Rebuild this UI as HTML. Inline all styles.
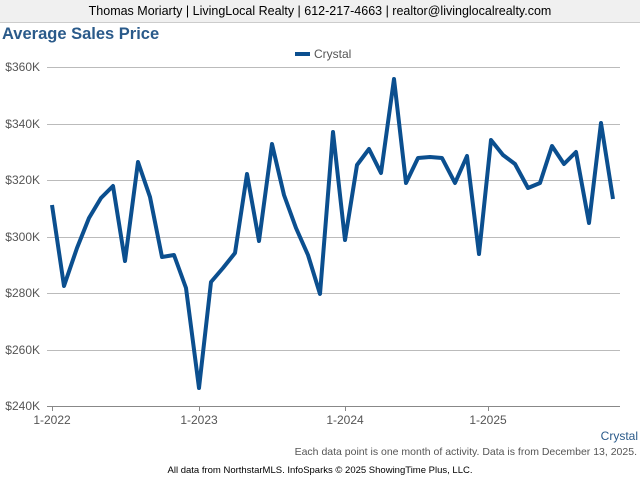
<!DOCTYPE html>
<html><head><style>
body{margin:0;width:640px;height:480px;background:#fff;font-family:"Liberation Sans",Arial,sans-serif;overflow:hidden;position:relative}
.hdr{position:absolute;left:0;top:0;width:640px;height:22px;background:#f0f0f0;border-bottom:1px solid #ccc;text-align:center;font-size:12.5px;line-height:22px;color:#000}
.t{position:absolute;left:2px;top:25px;font-size:16.5px;font-weight:bold;color:#2a5a8a}
</style></head><body>
<div class="hdr">Thomas Moriarty | LivingLocal Realty | 612-217-4663 | realtor@livinglocalrealty.com</div>
<div class="t">Average Sales Price</div>
<svg width="640" height="480" style="position:absolute;left:0;top:0" font-family="Liberation Sans, Arial, sans-serif">
<line x1="295" y1="54" x2="310" y2="54" stroke="#0b4f8f" stroke-width="4"/>
<text x="314" y="58" font-size="12" fill="#555">Crystal</text>
<g stroke="#bbb" stroke-width="1">
<line x1="47" y1="67.5" x2="620" y2="67.5"/><line x1="47" y1="124.5" x2="620" y2="124.5"/>
<line x1="47" y1="180.5" x2="620" y2="180.5"/><line x1="47" y1="237.5" x2="620" y2="237.5"/>
<line x1="47" y1="293.5" x2="620" y2="293.5"/><line x1="47" y1="350.5" x2="620" y2="350.5"/>
</g>
<line x1="47" y1="406.5" x2="620" y2="406.5" stroke="#888"/>
<g stroke="#888"><line x1="52.5" y1="406" x2="52.5" y2="411"/><line x1="199.5" y1="406" x2="199.5" y2="411"/><line x1="345.5" y1="406" x2="345.5" y2="411"/><line x1="488.5" y1="406" x2="488.5" y2="411"/></g>
<g font-size="12" fill="#555" text-anchor="end">
<text x="40" y="71">$360K</text><text x="40" y="128">$340K</text><text x="40" y="184">$320K</text>
<text x="40" y="241">$300K</text><text x="40" y="297">$280K</text><text x="40" y="354">$260K</text><text x="40" y="410">$240K</text>
</g>
<g font-size="12" fill="#555" text-anchor="middle">
<text x="52" y="424">1-2022</text><text x="199" y="424">1-2023</text><text x="345" y="424">1-2024</text><text x="488" y="424">1-2025</text>
</g>
<polyline fill="none" stroke="#0b4f8f" stroke-width="4" stroke-linejoin="round" points="52,205 64,286 77,248 89,218 101,198 113,186 125,261 138,162 150,197 162,257 174,255 186,288 199,388 211,282 223,268 235,253 247,174 259,241 272,144 284,195 296,228 308,255 320,294 333,132 345,240 357,165 369,149 381,173 394,79 406,183 418,158 430,157 442,158 455,183 467,156 479,254 491,140 503,155 515,164 528,188 540,183 552,146 564,164 576,152 589,223 601,123 613,199"/>
<text x="638" y="440" font-size="12" fill="#2a5a8a" text-anchor="end">Crystal</text>
<text x="637" y="455" font-size="10.5" fill="#555" text-anchor="end">Each data point is one month of activity. Data is from December 13, 2025.</text>
<text x="320" y="473" font-size="9.5" fill="#000" text-anchor="middle">All data from NorthstarMLS. InfoSparks © 2025 ShowingTime Plus, LLC.</text>
</svg>
</body></html>
